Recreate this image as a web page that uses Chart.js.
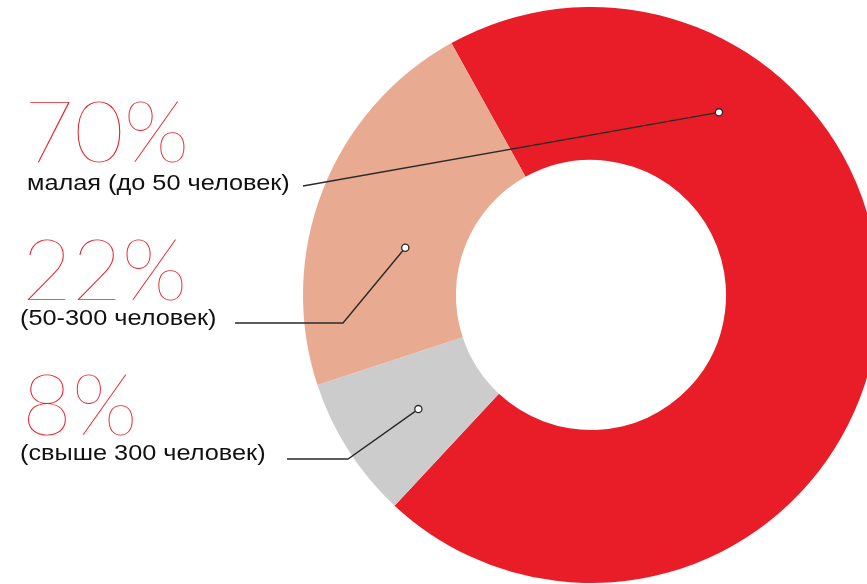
<!DOCTYPE html>
<html><head><meta charset="utf-8">
<script src="https://cdn.jsdelivr.net/npm/chart.js@4"></script>
<style>html,body{margin:0;padding:0;background:#fff;overflow:hidden}#wrap{position:relative;width:867px;height:584px}</style>
</head><body><div id="wrap"><canvas id="c" width="867" height="584"></canvas></div>
<script>
const categories = ['малая (до 50 человек)', '(свыше 300 человек)', '(50-300 человек)'];
const shares = [70, 8, 22];
const percentLabels = ['70%', '8%', '22%'];
const sliceColors = ['#e81d27', '#cccccc', '#e8ab91'];
// callout anchor inside each slice: fraction along the arc, fraction across the ring
const anchorAlong = [0.254, 0.47, 0.41];
const anchorAcross = [0.575, 0.47, 0.37];
// label layout
const pctX = [24, 22, 22];
const pctBaseline = [162, 435, 300];
const labelX = [27, 20, 20];
const labelBaseline = [190, 460, 325];
const leaderStart = [[303, 186], [287, 459], [235, 323]];
const elbowX = [null, 348, 343];

const callouts = {
  id: 'callouts',
  afterDatasetsDraw(chart) {
    const ctx = chart.ctx;
    const meta = chart.getDatasetMeta(0);
    meta.data.forEach((arc, i) => {
      const p = arc.getProps(['x', 'y', 'startAngle', 'endAngle', 'innerRadius', 'outerRadius'], true);
      const a = p.startAngle + (p.endAngle - p.startAngle) * anchorAlong[i];
      const r = p.innerRadius + (p.outerRadius - p.innerRadius) * anchorAcross[i];
      const ax = p.x + Math.cos(a) * r, ay = p.y + Math.sin(a) * r;
      ctx.save();
      ctx.strokeStyle = '#2a2a2a';
      ctx.lineWidth = 1.4;
      ctx.beginPath();
      ctx.moveTo(leaderStart[i][0], leaderStart[i][1]);
      if (elbowX[i] !== null) ctx.lineTo(elbowX[i], leaderStart[i][1]);
      ctx.lineTo(ax, ay);
      ctx.stroke();
      ctx.beginPath();
      ctx.arc(ax, ay, 3.6, 0, Math.PI * 2);
      ctx.fillStyle = '#ffffff';
      ctx.fill();
      ctx.lineWidth = 1.3;
      ctx.stroke();
      ctx.textBaseline = 'alphabetic';
      ctx.textAlign = 'left';
      ctx.fillStyle = '#e8222a';
      ctx.font = '200 86px Lato, Inter, Roboto, sans-serif';
      ctx.fillText(percentLabels[i], pctX[i], pctBaseline[i]);
      ctx.fillStyle = '#111111';
      ctx.font = '22px "Liberation Sans", Arial, sans-serif';
      ctx.translate(labelX[i], labelBaseline[i]);
      ctx.scale(1.15, 1);
      ctx.fillText(categories[i], 0, 0);
      ctx.restore();
    });
  }
};

new Chart(document.getElementById('c'), {
  type: 'doughnut',
  data: { labels: categories, datasets: [{ data: shares, backgroundColor: sliceColors, borderWidth: 0, clip: false }] },
  options: {
    responsive: false, animation: false, radius: 288, cutout: '46.9%', rotation: -29,
    layout: { padding: { left: 315, right: 0, top: 6, bottom: 0 } },
    plugins: { legend: { display: false }, tooltip: { enabled: false } },
    events: []
  },
  plugins: [callouts]
});
</script></body></html>
